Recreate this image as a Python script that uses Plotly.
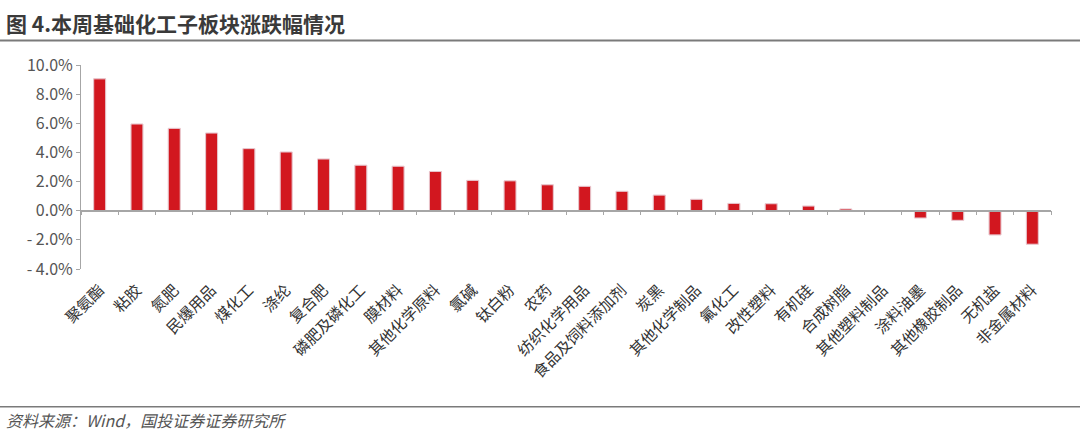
import plotly.graph_objects as go

categories = ["聚氨酯", "粘胶", "氮肥", "民爆用品", "煤化工", "涤纶", "复合肥", "磷肥及磷化工",
              "膜材料", "其他化学原料", "氯碱", "钛白粉", "农药", "纺织化学用品", "食品及饲料添加剂",
              "炭黑", "其他化学制品", "氟化工", "改性塑料", "有机硅", "合成树脂", "其他塑料制品",
              "涂料油墨", "其他橡胶制品", "无机盐", "非金属材料"]
changes_pct = [9.05, 5.95, 5.65, 5.33, 4.26, 4.03, 3.55, 3.12, 3.05, 2.69, 2.08, 2.05, 1.78,
               1.67, 1.33, 1.07, 0.78, 0.50, 0.48, 0.32, 0.12, -0.02, -0.50, -0.66, -1.66, -2.30]
y_ticks = [-4, -2, 0, 2, 4, 6, 8, 10]

title_text = "图 4.本周基础化工子板块涨跌幅情况"
source_text = "资料来源：Wind，国投证券证券研究所"

FONT = "Noto Sans CJK SC"
W, H = 1080, 440
ml, mr, mt, mb = 81, 29, 64.5, 171
ymin, ymax = -4, 10
pw = W - ml - mr
dom_h = H - mt - mb


def px_x(x):
    return (x - ml) / pw


def px_y(y):
    return (H - mb - y) / dom_h


zero_pos = (0 - ymin) / (ymax - ymin)

fig = go.Figure()
fig.add_trace(go.Bar(
    x=categories, y=changes_pct,
    marker=dict(color="#D2171F", line=dict(color="#E9A0A4", width=0.8)),
    hoverinfo="x+y", showlegend=False,
))
# invisible copy carrying the zero-line axis (ticks between categories)
fig.add_trace(go.Bar(
    x=categories, y=changes_pct, xaxis="x2", yaxis="y",
    marker=dict(color="rgba(0,0,0,0)"), hoverinfo="skip", showlegend=False,
))

fig.update_layout(
    width=W, height=H,
    margin=dict(l=ml, r=mr, t=mt, b=mb, autoexpand=False),
    paper_bgcolor="white", plot_bgcolor="white",
    bargap=0.68, barmode="overlay",
    font=dict(family=FONT, color="#444"),
    xaxis=dict(
        type="category", categoryorder="array", categoryarray=categories,
        range=[-0.5, len(categories) - 0.5], automargin=False,
        showline=False, showgrid=False, zeroline=False, ticks="",
        ticklabelstandoff=8,
        tickangle=-45, tickfont=dict(size=15.5, color="#333", family=FONT),
    ),
    xaxis2=dict(
        type="category", categoryorder="array", categoryarray=categories,
        range=[-0.5, len(categories) - 0.5], automargin=False,
        overlaying="x", anchor="free", position=zero_pos,
        showline=True, linecolor="#A6A6A6", linewidth=1.5,
        ticks="outside", tickson="boundaries", ticklen=4, tickcolor="#A6A6A6",
        showticklabels=False, showgrid=False, zeroline=False,
    ),
    yaxis=dict(
        range=[ymin, ymax], tickvals=y_ticks, automargin=False,
        ticktext=[f"{v:.1f}%".replace("-", "- ") for v in y_ticks],
        showline=True, linecolor="#A6A6A6", linewidth=1,
        ticks="outside", ticklen=4, tickcolor="#A6A6A6",
        showgrid=False, zeroline=False,
        tickfont=dict(size=16, color="#555", family=FONT),
    ),
    annotations=[
        dict(text=f"<b>{title_text}</b>", xref="paper", yref="paper",
             x=px_x(4), y=px_y(22),
             xanchor="left", yanchor="middle", showarrow=False,
             font=dict(size=21, color="#3a3a3a", family=FONT)),
        dict(text=f"<i>{source_text}</i>", xref="paper", yref="paper",
             x=px_x(4), y=px_y(420),
             xanchor="left", yanchor="middle", showarrow=False,
             font=dict(size=16, color="#555", family=FONT)),
    ],
    shapes=[
        dict(type="line", xref="paper", yref="paper",
             x0=px_x(0), x1=px_x(W), y0=px_y(40), y1=px_y(40),
             line=dict(color="#7a7a7a", width=2)),
        dict(type="line", xref="paper", yref="paper",
             x0=px_x(0), x1=px_x(W), y0=px_y(407), y1=px_y(407),
             line=dict(color="#7a7a7a", width=1.5)),
    ],
)

fig.write_html("out.html", config={"displayModeBar": False},
               post_script="document.body.style.margin='0';document.body.style.overflow='hidden';")
